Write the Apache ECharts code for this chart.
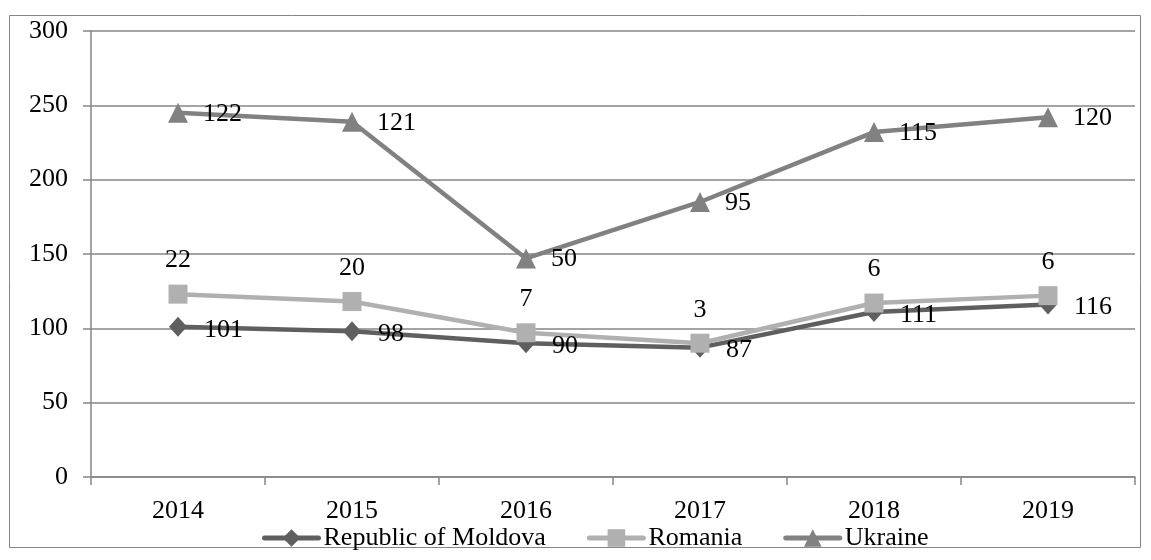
<!DOCTYPE html>
<html>
<head>
<meta charset="utf-8">
<script src="https://cdn.jsdelivr.net/npm/echarts@6/dist/echarts.min.js"></script>
<style>
html,body{margin:0;padding:0;background:#fff;}
#chart{width:1151px;height:560px;}
</style>
</head>
<body>
<div id="chart"></div>
<script>
const years = ['2014', '2015', '2016', '2017', '2018', '2019'];
const moldova = [101, 98, 90, 87, 111, 116];
const romania = [22, 20, 7, 3, 6, 6];
const ukraine = [122, 121, 50, 95, 115, 120];
const yTicks = [0, 50, 100, 150, 200, 250, 300];

const FONT = '"Liberation Serif", "Times New Roman", serif';
const FONT_SIZE = 26;
const GRID_GRAY = '#868686';

const chart = echarts.init(document.getElementById('chart'));

function lineSeries(name, data, color, symbol, symbolSize, label) {
  return {
    name: name,
    type: 'line',
    stack: 'total',
    data: data,
    color: color,
    symbol: symbol,
    symbolSize: symbolSize,
    showAllSymbol: true,
    lineStyle: { width: 4.5, color: color },
    itemStyle: { color: color },
    label: Object.assign({
      show: true,
      color: '#000',
      fontFamily: FONT,
      fontSize: FONT_SIZE
    }, label),
    z: 3
  };
}

chart.setOption({
  animation: false,
  backgroundColor: '#fff',
  textStyle: { fontFamily: FONT },
  graphic: [{
    type: 'rect',
    shape: { x: 9.5, y: 15.5, width: 1131, height: 532 },
    style: { fill: 'none', stroke: GRID_GRAY, lineWidth: 1 },
    silent: true,
    z: -1
  }],
  grid: { left: 91, right: 16, top: 31, bottom: 83 },
  legend: {
    bottom: 4,
    left: 257,
    itemWidth: 54,
    itemHeight: 22,
    itemGap: 41,
    lineStyle: { width: 5, cap: 'round' },
    textStyle: { fontFamily: FONT, fontSize: FONT_SIZE, color: '#000' },
    data: ['Republic of Moldova', 'Romania', 'Ukraine']
  },
  xAxis: {
    type: 'category',
    data: years,
    boundaryGap: true,
    axisLine: { lineStyle: { color: GRID_GRAY, width: 1.5 } },
    axisTick: { show: true, length: 8, inside: false, lineStyle: { color: GRID_GRAY, width: 1.5 } },
    axisLabel: { color: '#000', fontFamily: FONT, fontSize: FONT_SIZE, margin: 21 },
    splitLine: { show: false }
  },
  yAxis: {
    type: 'value',
    min: yTicks[0],
    max: yTicks[yTicks.length - 1],
    interval: 50,
    axisLine: { show: true, lineStyle: { color: GRID_GRAY, width: 1.5 } },
    axisTick: { show: true, length: 8, lineStyle: { color: GRID_GRAY, width: 1.5 } },
    axisLabel: { color: '#000', fontFamily: FONT, fontSize: FONT_SIZE, margin: 23 },
    splitLine: { show: true, lineStyle: { color: GRID_GRAY, width: 1.5 } }
  },
  series: [
    lineSeries('Republic of Moldova', moldova, '#5f5f5f', 'diamond', [18, 20],
      { position: 'right', distance: 17, offset: [0, 3] }),
    lineSeries('Romania', romania, '#b0b0b0', 'rect', 19,
      { position: 'top', distance: 11 }),
    lineSeries('Ukraine', ukraine, '#818181', 'triangle', 20,
      { position: 'right', distance: 15, offset: [0, 1] })
  ]
});
</script>
</body>
</html>
